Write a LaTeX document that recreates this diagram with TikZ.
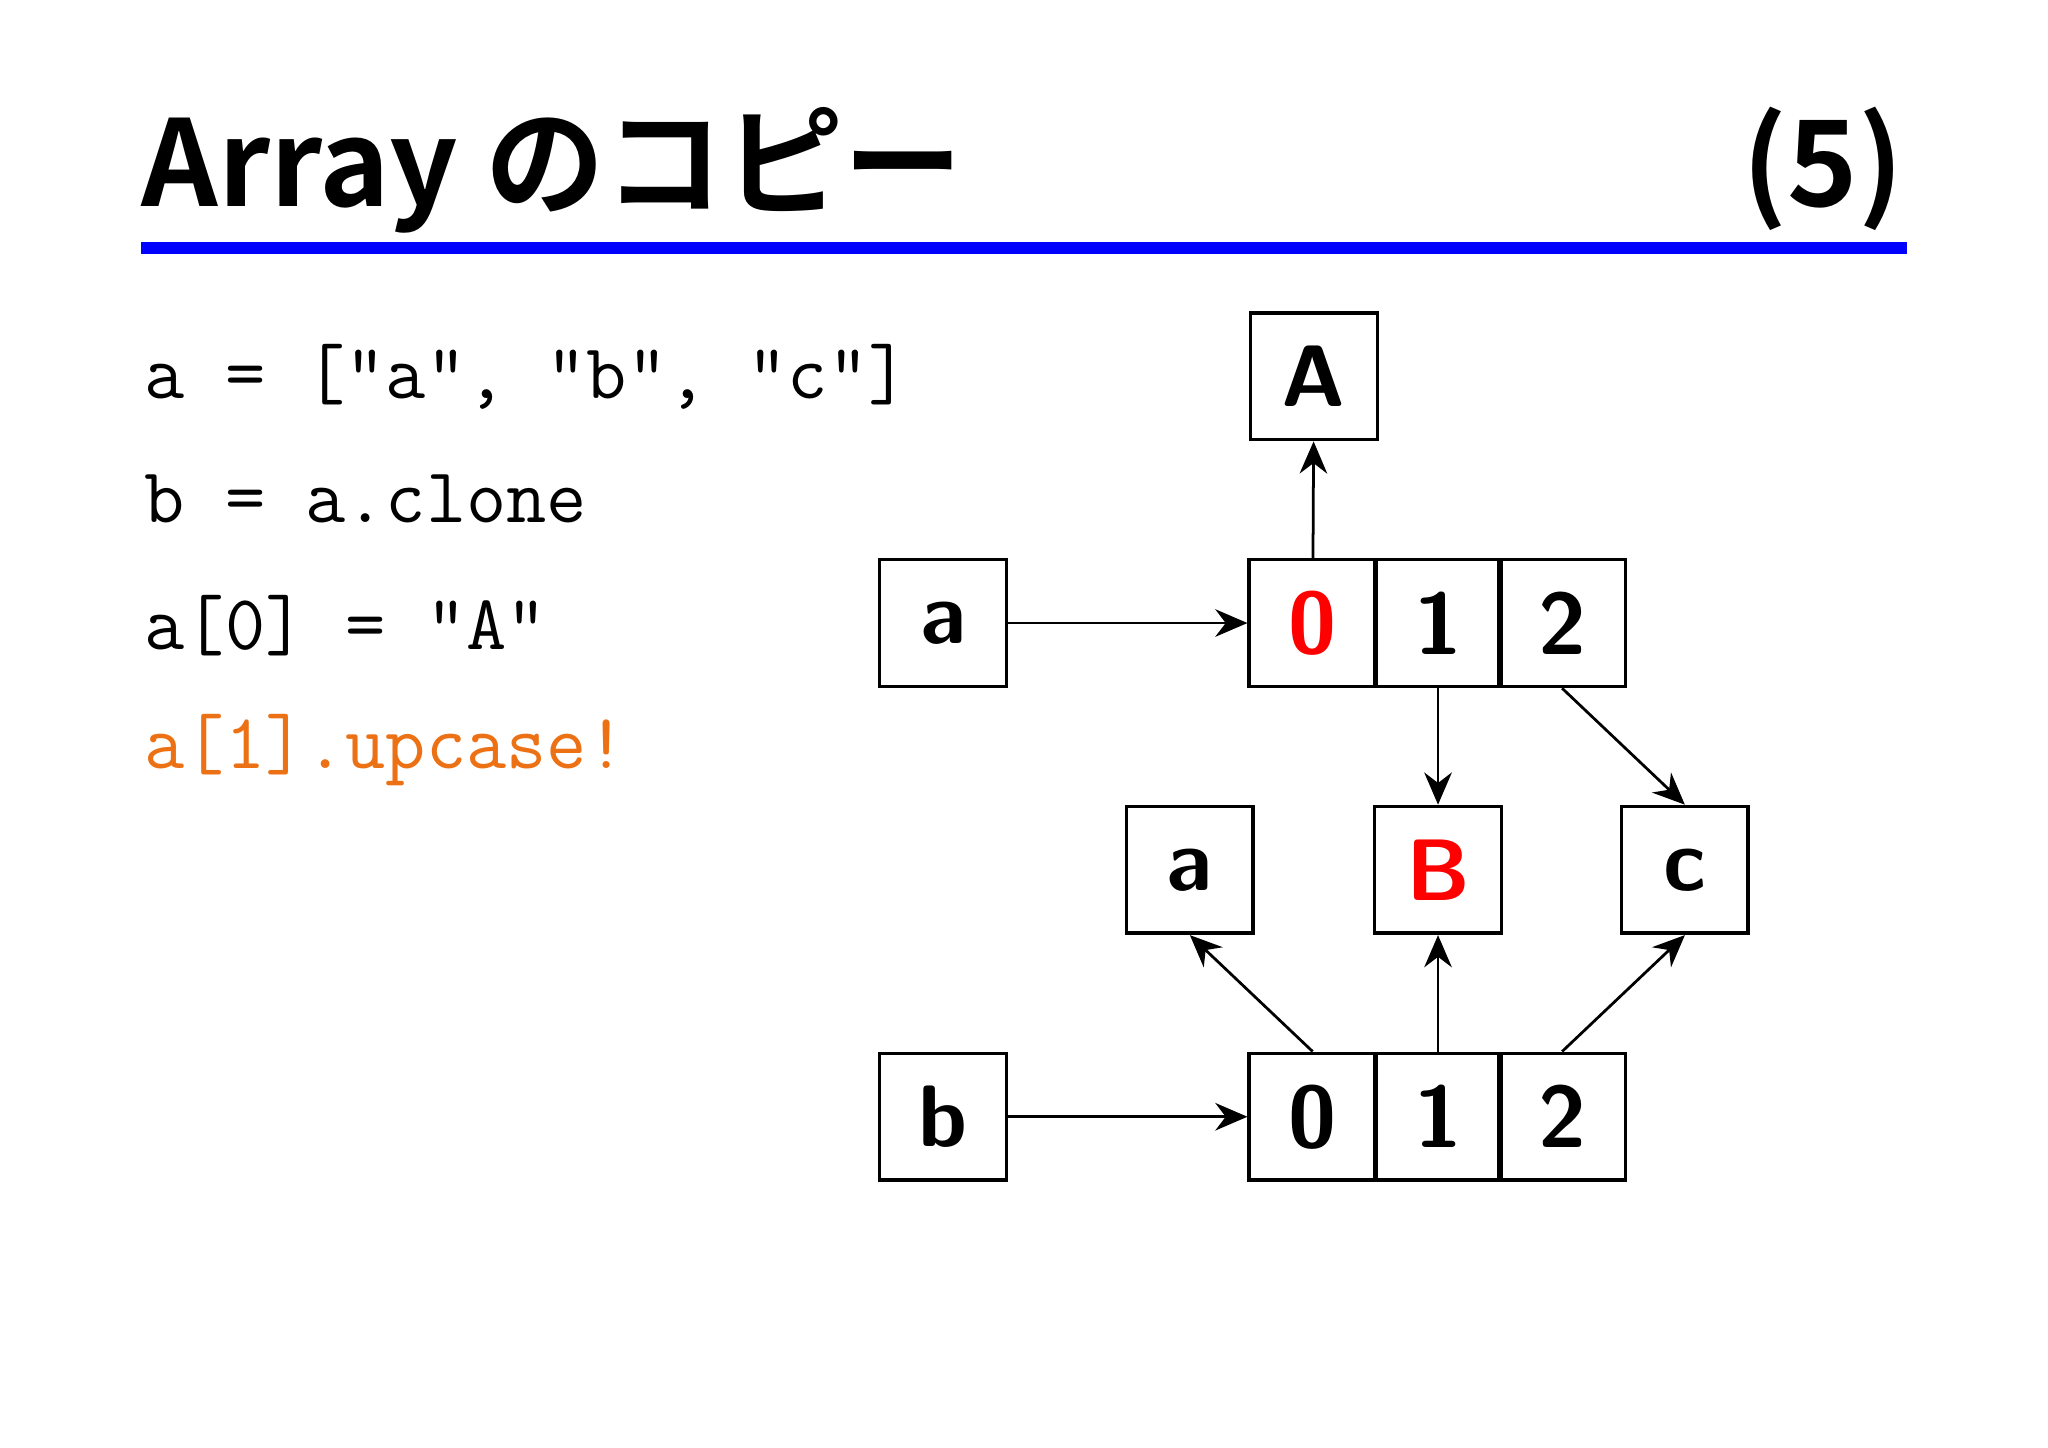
\documentclass[tikz,border=0pt]{standalone}
\usepackage{fontspec}
\newfontfamily\cjk{Noto Sans CJK JP Bold}
\usetikzlibrary{arrows.meta}
\begin{document}
\begin{tikzpicture}[x=0.01cm,y=-0.01cm,
  box/.style={draw,thick,minimum width=0.97cm,minimum height=0.97cm,inner sep=0pt,font=\fontsize{19}{22}\selectfont\sffamily\bfseries},
  code/.style={anchor=base west,inner sep=0pt,font=\fontsize{17}{20}\selectfont\ttfamily},
  arr/.style={-{Stealth[length=7pt,width=6pt]},semithick}]
\useasboundingbox (0,0) rectangle (1568,1108);
\node[anchor=base west,inner sep=0pt,font=\cjk\fontsize{26}{30}\selectfont] (title) at (108,158) {Array のコピー};
\node[anchor=base east,inner sep=0pt,font=\cjk\fontsize{26}{30}\selectfont] (num) at (1458,158) {(5)};
\draw[blue,line width=2.5pt] (108,190) -- (1460,190);
\node[code] (l1) at (110,305) {a = ["a", "b", "c"]};
\node[code] (l2) at (110,400) {b = a.clone};
\node[code] (l3) at (110,497) {a[0] = "A"};
\node[code,text={rgb,255:red,236;green,112;blue,20}] (l4) at (110,588) {a[1].upcase!};
\node[box] (A) at (1006,288) {A};
\node[box] (va) at (722,477) {a};
\node[box,text=red] (t0) at (1005,477) {0};
\node[box] (t1) at (1101,477) {1};
\node[box] (t2) at (1196,477) {2};
\node[box] (ma) at (911,666) {a};
\node[box,text=red] (mB) at (1101,666) {B};
\node[box] (mc) at (1290,666) {c};
\node[box] (vb) at (722,855) {b};
\node[box] (b0) at (1005,855) {0};
\node[box] (b1) at (1101,855) {1};
\node[box] (b2) at (1196,855) {2};
\draw[arr] (va) -- (t0);
\draw[arr] (vb) -- (b0);
\draw[arr] (t0) -- (A);
\draw[arr] (t1) -- (mB);
\draw[arr] (t2.south) -- (mc.north);
\draw[arr] (b0.north) -- (ma.south);
\draw[arr] (b1) -- (mB);
\draw[arr] (b2.north) -- (mc.south);
\end{tikzpicture}
\end{document}
